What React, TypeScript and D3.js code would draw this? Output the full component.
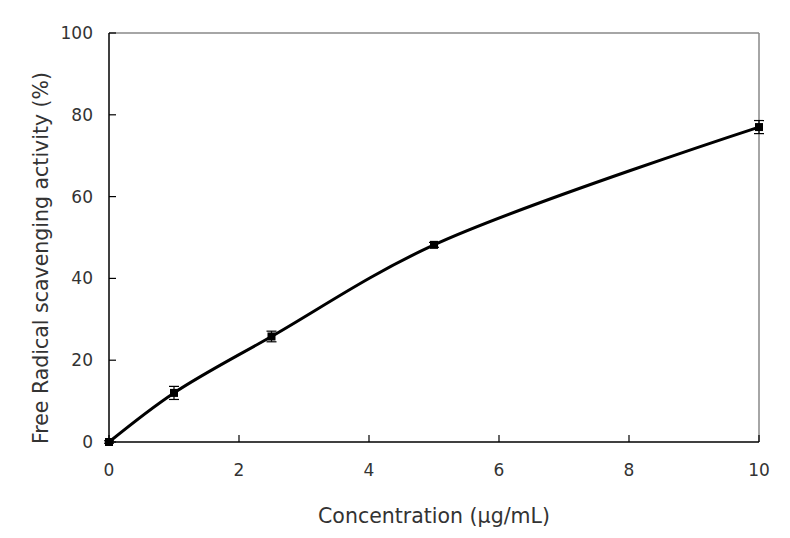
import React from 'react';
import * as d3 from 'd3';

const concentrations = [0, 1, 2.5, 5, 10];
const activity = [0, 12.0, 25.8, 48.2, 77.0];
const errors = [0.3, 1.6, 1.3, 0.6, 1.6];
const xTicks = [0, 2, 4, 6, 8, 10];
const yTicks = [0, 20, 40, 60, 80, 100];

const width = 790;
const height = 538;
const margin = { top: 33, right: 31, bottom: 96, left: 109 };
const font = '"DejaVu Sans", Verdana, sans-serif';

const App = () => {
  const x = d3.scaleLinear().domain([0, 10]).range([margin.left, width - margin.right]);
  const y = d3.scaleLinear().domain([0, 100]).range([height - margin.bottom, margin.top]);

  const points = concentrations.map((c, i) => ({ c, v: activity[i], e: errors[i] }));

  const line = d3
    .line<{ c: number; v: number }>()
    .x(d => x(d.c))
    .y(d => y(d.v))
    .curve(d3.curveCatmullRom.alpha(0.5));

  const x0 = x(0);
  const x1 = x(10);
  const y0 = y(0);
  const y1 = y(100);

  return (
    <svg
      width={width}
      height={height}
      style={{ position: 'absolute', left: 0, top: 0, background: '#fff' }}
    >
      {/* frame: top and right grey, left and bottom black */}
      <line x1={x0} x2={x1} y1={y1} y2={y1} stroke="#888" strokeWidth={1.5} />
      <line x1={x1} x2={x1} y1={y1} y2={y0} stroke="#888" strokeWidth={1.5} />
      <line x1={x0} x2={x0} y1={y1} y2={y0} stroke="#000" strokeWidth={1.5} />
      <line x1={x0} x2={x1} y1={y0} y2={y0} stroke="#000" strokeWidth={1.5} />

      {/* y ticks */}
      {yTicks.map(t => (
        <g key={'y' + t}>
          <line x1={x0} x2={x0 + 7} y1={y(t)} y2={y(t)} stroke="#000" strokeWidth={1.2} />
          <text
            x={x0 - 16}
            y={y(t)}
            dy="0.35em"
            textAnchor="end"
            fontFamily={font}
            fontSize={17}
            fill="#333"
          >
            {t}
          </text>
        </g>
      ))}

      {/* x ticks */}
      {xTicks.map(t => (
        <g key={'x' + t}>
          <line x1={x(t)} x2={x(t)} y1={y0} y2={y0 - 7} stroke="#000" strokeWidth={1.2} />
          <text
            x={x(t)}
            y={y0 + 34}
            textAnchor="middle"
            fontFamily={font}
            fontSize={17}
            fill="#333"
          >
            {t}
          </text>
        </g>
      ))}

      {/* curve */}
      <path d={line(points) || ''} fill="none" stroke="#000" strokeWidth={3} />

      {/* error bars */}
      {points.map(d => (
        <g key={'e' + d.c} stroke="#000" strokeWidth={1.2}>
          <line x1={x(d.c)} x2={x(d.c)} y1={y(d.v - d.e)} y2={y(d.v + d.e)} />
          <line x1={x(d.c) - 5} x2={x(d.c) + 5} y1={y(d.v - d.e)} y2={y(d.v - d.e)} />
          <line x1={x(d.c) - 5} x2={x(d.c) + 5} y1={y(d.v + d.e)} y2={y(d.v + d.e)} />
        </g>
      ))}

      {/* markers */}
      {points.map(d => (
        <rect key={'m' + d.c} x={x(d.c) - 4} y={y(d.v) - 4} width={8} height={8} fill="#000" />
      ))}

      {/* axis titles */}
      <text
        x={(x0 + x1) / 2}
        y={y0 + 81}
        textAnchor="middle"
        fontFamily={font}
        fontSize={20.5}
        fill="#333"
      >
        Concentration (μg/mL)
      </text>
      <text
        transform="translate(48,258) rotate(-90)"
        textAnchor="middle"
        fontFamily={font}
        fontSize={20.5}
        fill="#333"
      >
        Free Radical scavenging activity (%)
      </text>
    </svg>
  );
};

export default App;
